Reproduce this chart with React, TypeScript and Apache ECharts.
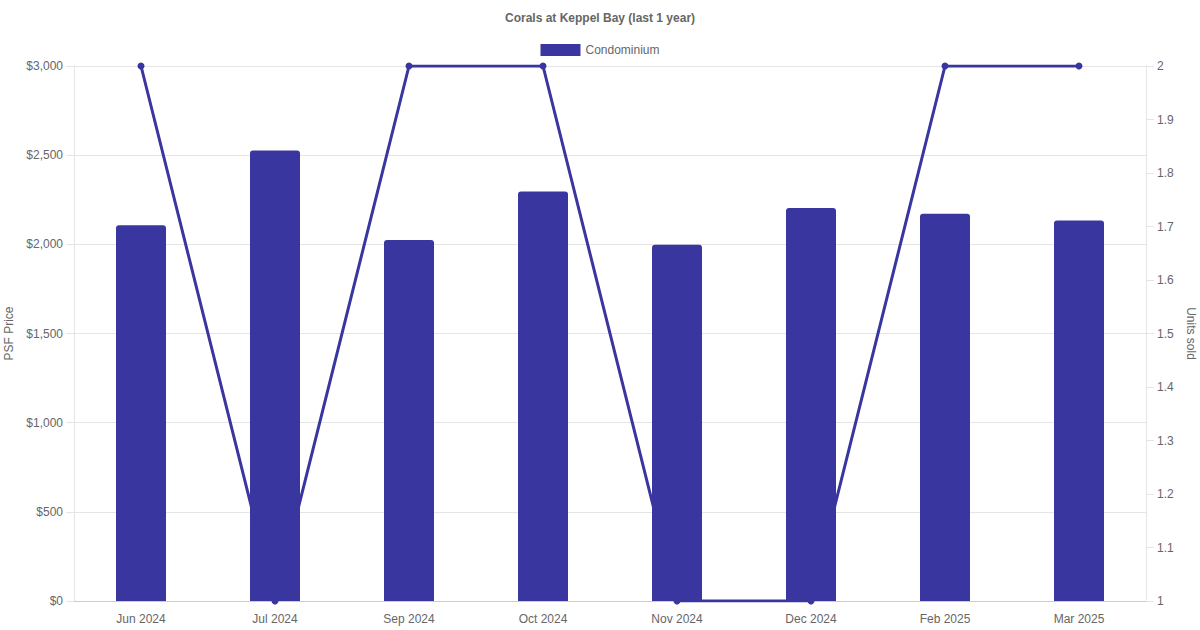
import { useEffect, useRef } from 'react'
import * as echarts from 'echarts'

const months = ['Jun 2024', 'Jul 2024', 'Sep 2024', 'Oct 2024', 'Nov 2024', 'Dec 2024', 'Feb 2025', 'Mar 2025']
const psfPrice = [2107, 2526, 2024, 2296, 1998, 2204, 2172, 2133]
const unitsSold = [2, 1, 2, 2, 1, 1, 2, 2]

const INDIGO = '#3a36a0'
const GRID = '#e5e5e5'
const TEXT = '#666'
const FONT = '"Liberation Sans", Arial, sans-serif'

export default function App() {
  const chartRef = useRef<HTMLDivElement>(null)

  useEffect(() => {
    document.body.style.margin = '0'
    if (!chartRef.current) return
    const chart = echarts.init(chartRef.current, undefined, { renderer: 'svg' })
    chart.setOption({
      animation: false,
      backgroundColor: '#fff',
      textStyle: { fontFamily: FONT },
      title: {
        text: 'Corals at Keppel Bay (last 1 year)',
        left: 'center',
        top: 7,
        textStyle: { fontSize: 12, fontWeight: 'bold', color: TEXT, fontFamily: FONT },
      },
      legend: {
        top: 39,
        left: 'center',
        itemWidth: 40,
        itemHeight: 12,
        itemGap: 10,
        data: [{ name: 'Condominium', icon: 'rect' }],
        textStyle: { fontSize: 12, color: TEXT, fontFamily: FONT },
      },
      grid: { left: 74, right: 54, top: 66, bottom: 29, containLabel: false, outerBoundsMode: 'none' },
      xAxis: {
        type: 'category',
        data: months,
        axisLine: { lineStyle: { color: '#ccc' } },
        axisTick: { show: false },
        axisLabel: { color: TEXT, fontSize: 12, margin: 12, fontFamily: FONT },
        splitLine: { show: false },
      },
      yAxis: [
        {
          type: 'value',
          min: 0,
          max: 3000,
          interval: 500,
          name: 'PSF Price',
          nameLocation: 'middle',
          nameRotate: 90,
          nameGap: 56,
          nameTextStyle: { color: TEXT, fontSize: 12, fontFamily: FONT },
          axisLine: { show: true, lineStyle: { color: GRID } },
          axisTick: { show: true, length: 8, lineStyle: { color: GRID } },
          axisLabel: {
            color: TEXT,
            fontSize: 12,
            margin: 11,
            fontFamily: FONT,
            formatter: (v: number) => '$' + v.toLocaleString('en-US'),
          },
          splitLine: { show: true, lineStyle: { color: GRID } },
        },
        {
          type: 'value',
          min: 1,
          max: 2,
          interval: 0.1,
          name: 'Units sold',
          nameLocation: 'middle',
          nameRotate: -90,
          nameGap: 36,
          nameTextStyle: { color: TEXT, fontSize: 12, fontFamily: FONT },
          axisLine: { show: true, lineStyle: { color: GRID } },
          axisTick: { show: true, length: 8, lineStyle: { color: GRID } },
          axisLabel: {
            color: TEXT,
            fontSize: 12,
            margin: 11,
            fontFamily: FONT,
            formatter: (v: number) => String(Math.round(v * 10) / 10),
          },
          splitLine: { show: false },
        },
      ],
      series: [
        {
          name: 'Condominium',
          type: 'bar',
          yAxisIndex: 0,
          data: psfPrice,
          barWidth: 50,
          itemStyle: { color: INDIGO, borderRadius: [3, 3, 0, 0] },
          z: 2,
        },
        {
          name: 'Units sold',
          type: 'line',
          yAxisIndex: 1,
          data: unitsSold,
          symbol: 'circle',
          symbolSize: 7,
          lineStyle: { color: INDIGO, width: 3 },
          itemStyle: { color: INDIGO },
          z: 3,
        },
      ],
    })
    return () => chart.dispose()
  }, [])

  return <div ref={chartRef} style={{ width: 1200, height: 630 }} />
}
